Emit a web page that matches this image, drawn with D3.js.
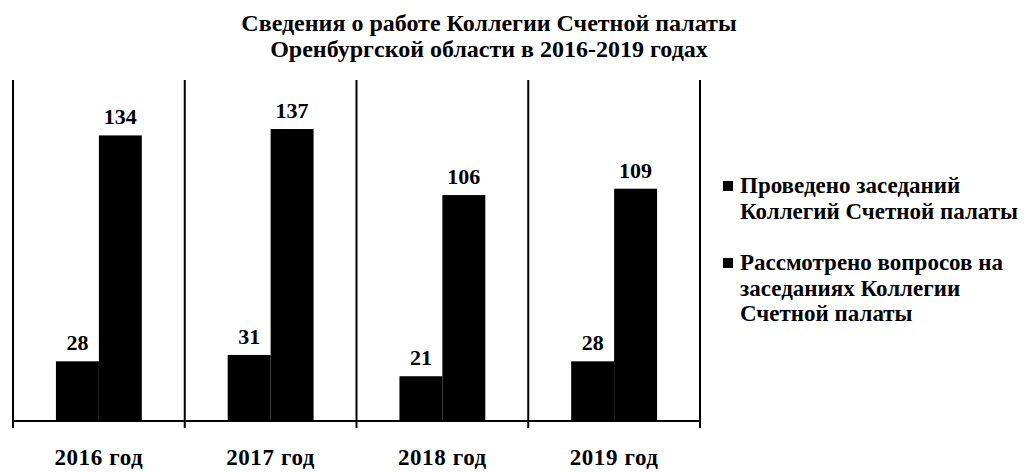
<!DOCTYPE html>
<html>
<head>
<meta charset="utf-8">
<script src="https://cdn.jsdelivr.net/npm/d3@7"></script>
<style>
  body { margin: 0; background: #fff; }
  text { font-family: "Liberation Serif", "DejaVu Serif", serif; fill: #000; }
</style>
</head>
<body>
<div id="chart"></div>
<script>
const years = ["2016 год", "2017 год", "2018 год", "2019 год"];
const seriesNames = ["Проведено заседаний Коллегий Счетной палаты", "Рассмотрено вопросов на заседаниях Коллегии Счетной палаты"];
const meetings = [28, 31, 21, 28];
const questions = [134, 137, 106, 109];
const titleLines = ["Сведения о работе Коллегии Счетной палаты", "Оренбургской области в 2016-2019 годах"];
const legendLines = [["Проведено заседаний", "Коллегий Счетной палаты"], ["Рассмотрено вопросов на", "заседаниях Коллегии", "Счетной палаты"]];

const width = 1026, height = 472;
const margin = {top: 80, right: 326, bottom: 51, left: 13};

const svg = d3.select("#chart").append("svg")
    .attr("width", width).attr("height", height)
    .style("background", "white");

const x0 = d3.scaleBand().domain(years).range([margin.left, width - margin.right]);
const x1 = d3.scaleBand().domain([0, 1]).range([x0.bandwidth() * 0.25, x0.bandwidth() * 0.75]);
const y = d3.scaleLinear().domain([0, 160]).range([height - margin.bottom, margin.top]);

const rows = years.map((yr, i) => ({year: yr, vals: [meetings[i], questions[i]]}));

// title
svg.append("g").selectAll("text")
    .data(titleLines).join("text")
    .attr("x", 489).attr("y", (d, i) => 31 + i * 26)
    .attr("text-anchor", "middle")
    .style("font-weight", "bold").style("font-size", "24px")
    .text(d => d);

// frame lines between categories
const bounds = years.map(d => x0(d)).concat([x0.range()[1]]);
svg.append("g").selectAll("line")
    .data(bounds).join("line")
    .attr("x1", d => d).attr("x2", d => d)
    .attr("y1", margin.top).attr("y2", y(0) + 7)
    .attr("stroke", "#000").attr("stroke-width", 2);

svg.append("line")
    .attr("x1", margin.left).attr("x2", x0.range()[1])
    .attr("y1", y(0)).attr("y2", y(0))
    .attr("stroke", "#000").attr("stroke-width", 2);

// bars
const groups = svg.append("g").selectAll("g")
    .data(rows).join("g")
    .attr("transform", d => `translate(${x0(d.year)},0)`);

groups.selectAll("rect")
    .data(d => d.vals).join("rect")
    .attr("x", (d, i) => x1(i))
    .attr("width", x1.bandwidth())
    .attr("y", d => y(d))
    .attr("height", d => y(0) - y(d))
    .attr("fill", "#000");

groups.selectAll("text.val")
    .data(d => d.vals).join("text")
    .attr("class", "val")
    .attr("x", (d, i) => x1(i) + x1.bandwidth() / 2)
    .attr("y", d => y(d) - 11)
    .attr("text-anchor", "middle")
    .style("font-weight", "bold").style("font-size", "22px")
    .text(d => d);

// category labels
svg.append("g").selectAll("text")
    .data(years).join("text")
    .attr("x", d => x0(d) + x0.bandwidth() / 2)
    .attr("y", 465)
    .attr("text-anchor", "middle")
    .style("font-weight", "bold").style("font-size", "23px").style("letter-spacing", "0.6px")
    .text(d => d);

// legend
const legendY = [193, 270];
const legend = svg.append("g").selectAll("g")
    .data(seriesNames).join("g")
    .attr("transform", (d, i) => `translate(723,${legendY[i]})`);

legend.append("rect")
    .attr("x", 0).attr("y", -12).attr("width", 10).attr("height", 10)
    .attr("fill", "#000");

legend.each(function(d, i) {
    d3.select(this).selectAll("text")
        .data(legendLines[i]).join("text")
        .attr("x", 17).attr("y", (t, j) => j * 25.5)
        .style("font-weight", "bold").style("font-size", "23px")
        .text(t => t);
});
</script>
</body>
</html>
